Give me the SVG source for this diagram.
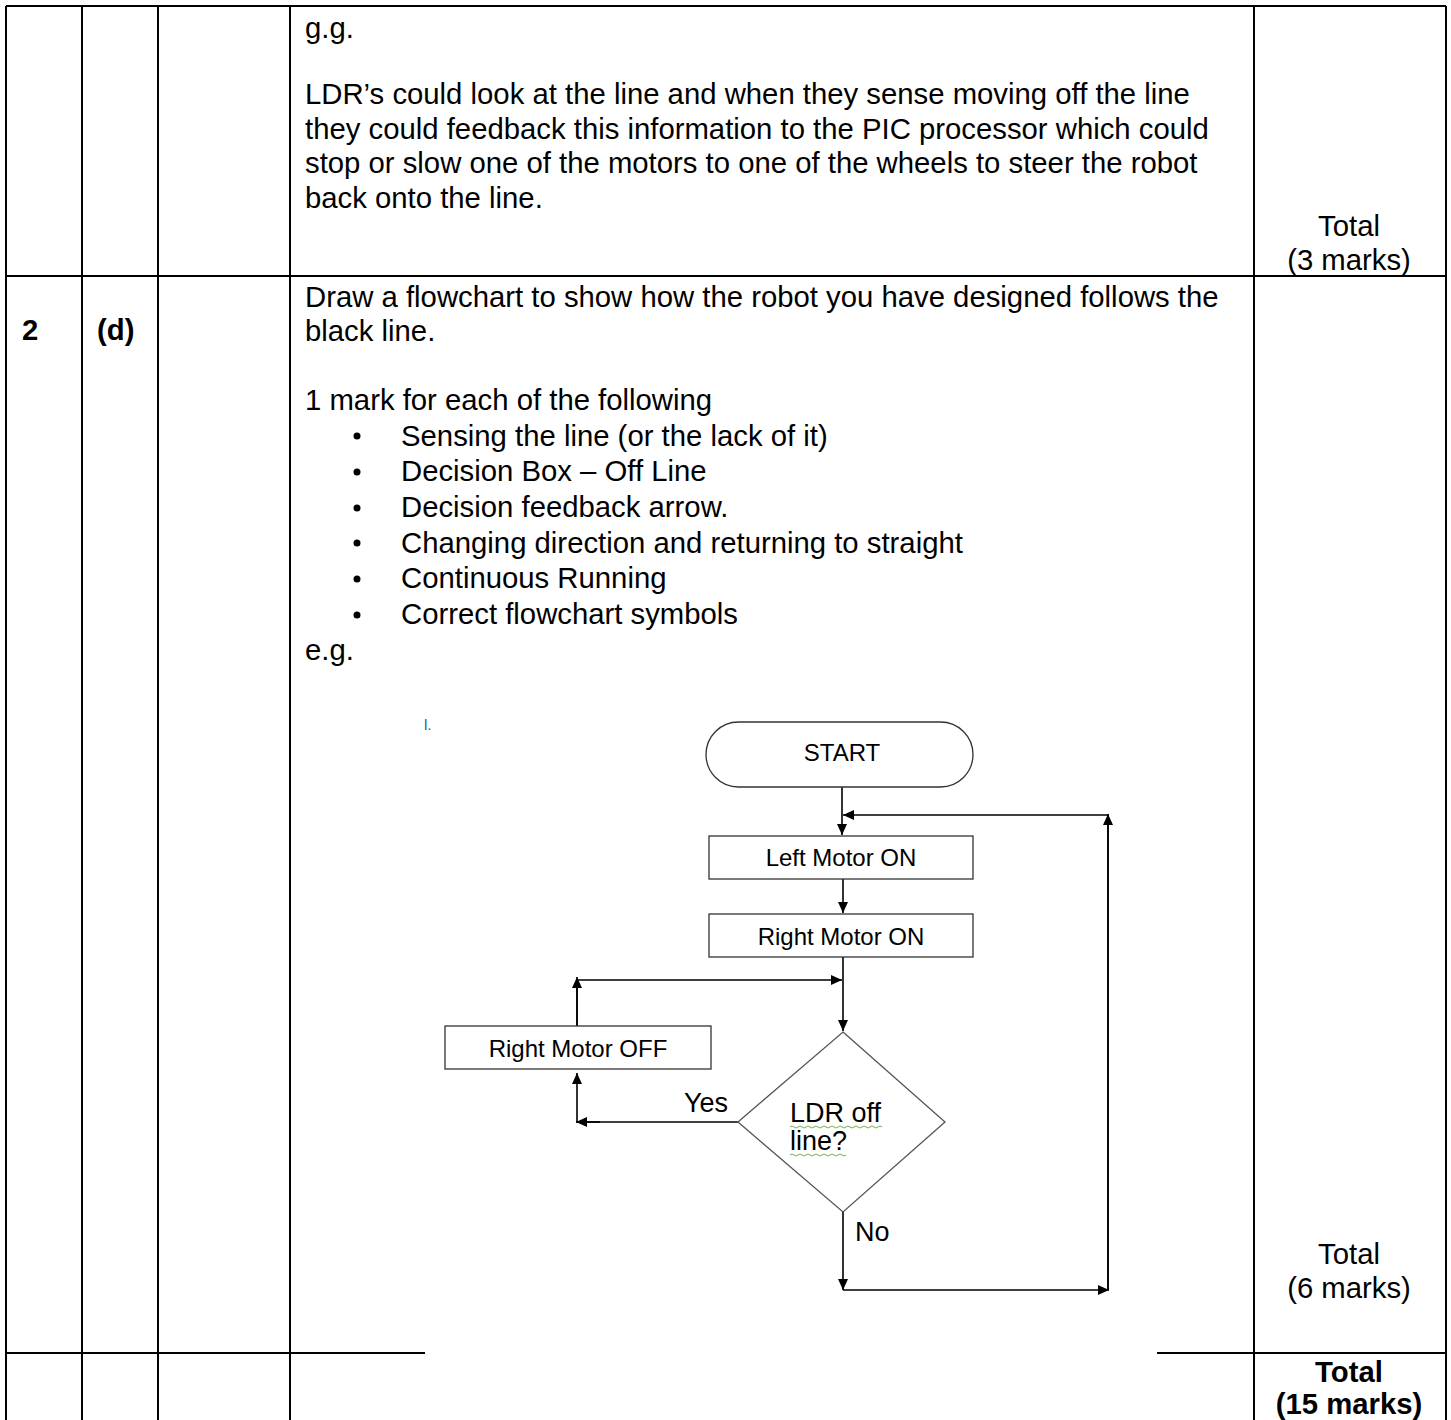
<svg xmlns="http://www.w3.org/2000/svg" width="1451" height="1420" viewBox="0 0 1451 1420">
<defs>
<style>
.t{font-family:"Liberation Sans",Arial,sans-serif;font-size:29.3px;fill:#000}
.b{font-weight:bold}
.c{text-anchor:middle}
.f{font-family:"Liberation Sans",Arial,sans-serif;font-size:24px;fill:#000}
.g{font-family:"Liberation Sans",Arial,sans-serif;font-size:27px;fill:#000}
.grid{stroke:#000;stroke-width:2;fill:none}
.box{fill:#fff;stroke:#333;stroke-width:1.3}
.con{stroke:#000;stroke-width:1.6;fill:none}
</style>
<marker id="ah" markerWidth="12" markerHeight="12" refX="11" refY="6" orient="auto" markerUnits="userSpaceOnUse">
<path d="M0,1 L11,6 L0,11 z" fill="#000"/>
</marker>
</defs>
<rect width="1451" height="1420" fill="#fff"/>
<g id="table" class="grid">
<line x1="6" y1="6" x2="1446" y2="6"/>
<line x1="6" y1="276" x2="1446" y2="276"/>
<line x1="6" y1="1353" x2="425" y2="1353"/>
<line x1="1157" y1="1353" x2="1446" y2="1353"/>
<line x1="6" y1="6" x2="6" y2="1420"/>
<line x1="82" y1="6" x2="82" y2="1420"/>
<line x1="158" y1="6" x2="158" y2="1420"/>
<line x1="290" y1="6" x2="290" y2="1420"/>
<line x1="1254" y1="6" x2="1254" y2="1420"/>
<line x1="1446" y1="6" x2="1446" y2="1420"/>
</g>
<g id="texts">
<text class="t" x="305" y="38">g.g.</text>
<text class="t" x="305" y="104">LDR’s could look at the line and when they sense moving off the line</text>
<text class="t" x="305" y="139">they could feedback this information to the PIC processor which could</text>
<text class="t" x="305" y="173">stop or slow one of the motors to one of the wheels to steer the robot</text>
<text class="t" x="305" y="208">back onto the line.</text>
<text class="t c" x="1349" y="236">Total</text>
<text class="t c" x="1349" y="270">(3 marks)</text>
<text class="t b" x="22" y="340">2</text>
<text class="t b" x="97" y="340">(d)</text>
<text class="t" x="305" y="307">Draw a flowchart to show how the robot you have designed follows the</text>
<text class="t" x="305" y="341">black line.</text>
<text class="t" x="305" y="410">1 mark for each of the following</text>
<g id="bullets">
<circle cx="357" cy="436" r="3.5"/>
<circle cx="357" cy="472" r="3.5"/>
<circle cx="357" cy="508" r="3.5"/>
<circle cx="357" cy="543" r="3.5"/>
<circle cx="357" cy="579" r="3.5"/>
<circle cx="357" cy="615" r="3.5"/>
</g>
<text class="t" x="401" y="446">Sensing the line (or the lack of it)</text>
<text class="t" x="401" y="481">Decision Box – Off Line</text>
<text class="t" x="401" y="517">Decision feedback arrow.</text>
<text class="t" x="401" y="553">Changing direction and returning to straight</text>
<text class="t" x="401" y="588">Continuous Running</text>
<text class="t" x="401" y="624">Correct flowchart symbols</text>
<text class="t" x="305" y="660">e.g.</text>
<text class="t c" x="1349" y="1264">Total</text>
<text class="t c" x="1349" y="1298">(6 marks)</text>
<text class="t c b" x="1349" y="1382">Total</text>
<text class="t c b" x="1349" y="1414">(15 marks)</text>
<text x="424" y="730" font-family="Liberation Sans,sans-serif" font-size="15" fill="#1a5fa0">l.</text>
</g>
<g id="connectors" class="con">
<line x1="842" y1="787" x2="842" y2="835" marker-end="url(#ah)"/>
<polyline points="1108,1290 1108,815 843,815" marker-end="url(#ah)"/>
<line x1="1108" y1="1290" x2="1108" y2="814" marker-end="url(#ah)"/>
<line x1="843" y1="879" x2="843" y2="913" marker-end="url(#ah)"/>
<line x1="843" y1="957" x2="843" y2="1031" marker-end="url(#ah)"/>
<polyline points="577,1026 577,980 842,980" marker-end="url(#ah)"/>
<line x1="577" y1="1026" x2="577" y2="977" marker-end="url(#ah)"/>
<polyline points="738,1122 577,1122 577,1073" marker-end="url(#ah)"/>
<line x1="600" y1="1122" x2="576" y2="1122" marker-end="url(#ah)"/>
<polyline points="843,1212 843,1290" marker-end="url(#ah)"/>
<line x1="843" y1="1290" x2="1109" y2="1290" marker-end="url(#ah)"/>
</g>
<g id="start">
<rect class="box" x="706" y="722" width="267" height="65" rx="32.5"/>
<text class="f c" x="842" y="761" font-size="25">START</text>
</g>
<g id="left-motor-on">
<rect class="box" x="709" y="836" width="264" height="43"/>
<text class="f c" x="841" y="866">Left Motor ON</text>
</g>
<g id="right-motor-on">
<rect class="box" x="709" y="914" width="264" height="43"/>
<text class="f c" x="841" y="945">Right Motor ON</text>
</g>
<g id="right-motor-off">
<rect class="box" x="445" y="1026" width="266" height="43"/>
<text class="f c" x="578" y="1057">Right Motor OFF</text>
</g>
<g id="decision">
<polygon points="843,1032 945,1122 843,1212 738,1122" fill="#fff" stroke="#555" stroke-width="1.3"/>
<text class="g" x="790" y="1122">LDR off</text>
<text class="g" x="790" y="1150">line?</text>
<path d="M790,1127 q2,-2 4,0 t4,0 t4,0 t4,0 t4,0 t4,0 t4,0 t4,0 t4,0 t4,0 t4,0 t4,0 t4,0 t4,0 t4,0 t4,0 t4,0 t4,0 t4,0 t4,0 t4,0 t4,0 t4,0" fill="none" stroke="#6bb24a" stroke-width="1"/>
<path d="M790,1155 q2,-2 4,0 t4,0 t4,0 t4,0 t4,0 t4,0 t4,0 t4,0 t4,0 t4,0 t4,0 t4,0 t4,0 t4,0" fill="none" stroke="#6bb24a" stroke-width="1"/>
</g>
<g id="labels">
<text class="g" x="684" y="1112">Yes</text>
<text class="g" x="855" y="1241">No</text>
</g>
</svg>
